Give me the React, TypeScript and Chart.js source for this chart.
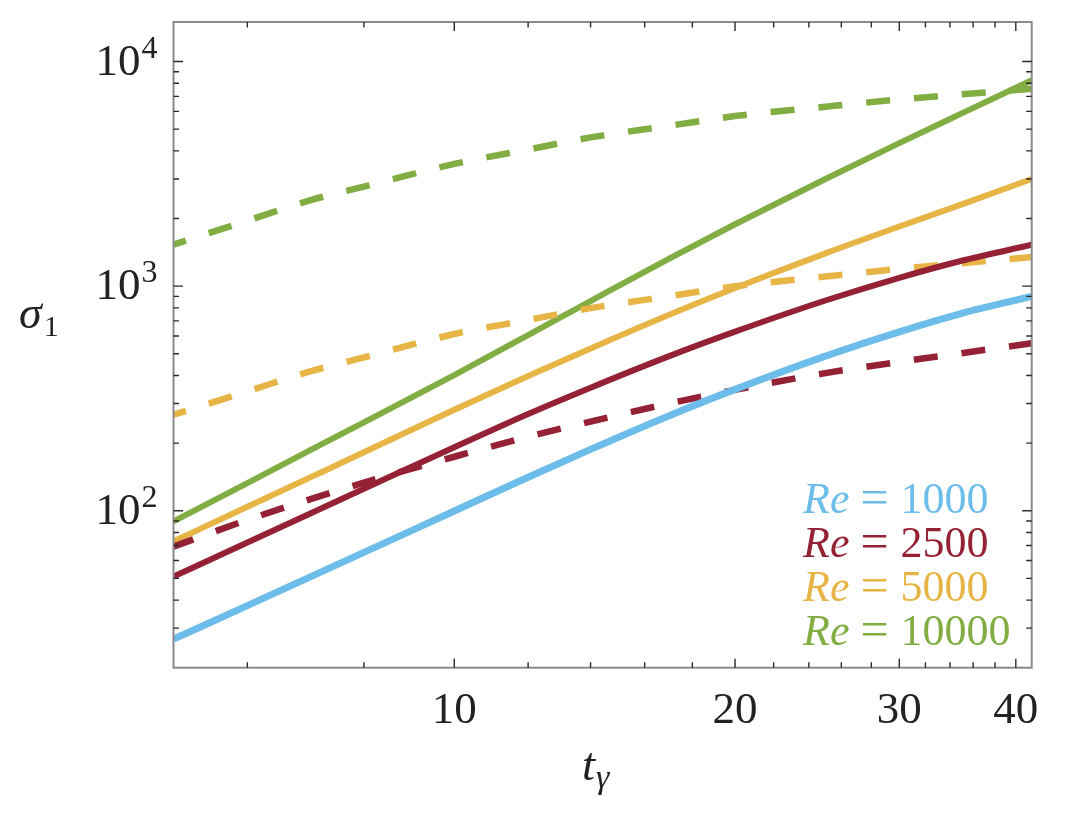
import React, { useEffect, useRef } from 'react';
import { Chart, registerables } from 'chart.js';

Chart.register(...registerables);

// ---- data ----
const tValues = [5, 6, 7, 8, 10, 12, 14, 17, 20, 25, 30, 35, 41.6];
const re1000Solid = [26.8, 37.8, 50.6, 65.2, 99.7, 140.9, 187.6, 265, 347, 488, 626, 757, 900];
const re2500Solid = [50.9, 72.2, 97.0, 125.2, 191.6, 269.5, 353, 488, 627, 863, 1089, 1297, 1528];
const re2500Dashed = [69.2, 91.0, 112.4, 133.4, 173.9, 213.5, 249.5, 300.4, 345, 410, 460, 503, 557];
const re5000Solid = [73.0, 104.1, 140.4, 182, 281.6, 398, 528, 746, 981, 1400, 1843, 2314, 3000];
const re5000Dashed = [267.6, 339.8, 416.8, 481.6, 612, 707, 798, 902, 998, 1104, 1194, 1265, 1349];
const re10000Solid = [89.6, 132.8, 185.5, 247.5, 401.7, 605.5, 858, 1326, 1886, 3001, 4334, 5877, 8255];
const re10000Dashed = [1531, 1956, 2409, 2773, 3501, 4058, 4594, 5175, 5718, 6295, 6778, 7144, 7574];

const xMajorTicks = [10, 20, 30, 40];
const xTickLabels = ['10', '20', '30', '40'];
const xMinorTicks = [6, 8, 12, 14, 16, 18, 22, 24, 26, 28, 32, 34, 36, 38];
const yMajorTicks = [100, 1000, 10000];
const yTickExponents = ['2', '3', '4'];
const yMinorTicks = [30, 40, 50, 60, 70, 80, 90, 200, 300, 400, 500, 600, 700, 800, 900,
  2000, 3000, 4000, 5000, 6000, 7000, 8000, 9000];

const legendValues = ['1000', '2500', '5000', '10000'];

const BLUE = '#6CBDEA';
const RED = '#952134';
const YELLOW = '#E7B546';
const GREEN = '#81AD43';
const legendColors = [BLUE, RED, YELLOW, GREEN];

const SERIF = '"Liberation Serif", "DejaVu Serif", serif';

const pts = (ys: number[]) => tValues.map((t, i) => ({ x: t, y: ys[i] }));

const decorPlugin = {
  id: 'decor',
  afterDatasetsDraw(chart: any) {
    const { ctx, chartArea, scales } = chart;
    const { left, right, top, bottom } = chartArea;
    const xs = scales.x;
    const ys = scales.y;
    ctx.save();
    // box
    ctx.strokeStyle = '#8a8a8a';
    ctx.lineWidth = 2;
    ctx.strokeRect(left, top, right - left, bottom - top);
    // ticks (inward, mirrored)
    ctx.strokeStyle = '#2a2a2a';
    ctx.lineWidth = 1.4;
    const xTick = (v: number, len: number) => {
      const p = xs.getPixelForValue(v);
      ctx.beginPath();
      ctx.moveTo(p, bottom);
      ctx.lineTo(p, bottom - len);
      ctx.moveTo(p, top);
      ctx.lineTo(p, top + len);
      ctx.stroke();
    };
    const yTick = (v: number, len: number) => {
      const p = ys.getPixelForValue(v);
      ctx.beginPath();
      ctx.moveTo(left, p);
      ctx.lineTo(left + len, p);
      ctx.moveTo(right, p);
      ctx.lineTo(right - len, p);
      ctx.stroke();
    };
    xMajorTicks.forEach((v) => xTick(v, 9));
    xMinorTicks.forEach((v) => xTick(v, 5.5));
    yMajorTicks.forEach((v) => yTick(v, 9.5));
    yMinorTicks.forEach((v) => yTick(v, 5.5));

    // x tick labels
    ctx.fillStyle = '#222';
    ctx.font = `45px ${SERIF}`;
    ctx.textAlign = 'center';
    ctx.textBaseline = 'alphabetic';
    xMajorTicks.forEach((v, i) => {
      ctx.fillText(xTickLabels[i], xs.getPixelForValue(v), bottom + 55);
    });

    // y tick labels 10^n
    yMajorTicks.forEach((v, i) => {
      const p = ys.getPixelForValue(v);
      ctx.font = `45px ${SERIF}`;
      const w10 = ctx.measureText('10').width;
      ctx.font = `32px ${SERIF}`;
      const wSup = ctx.measureText(yTickExponents[i]).width;
      const start = left - 16 - (w10 + 1 + wSup);
      ctx.textAlign = 'left';
      ctx.font = `45px ${SERIF}`;
      ctx.fillText('10', start, p + 13);
      ctx.font = `32px ${SERIF}`;
      ctx.fillText(yTickExponents[i], start + w10 + 1, p - 4);
    });

    // axis titles
    ctx.textAlign = 'left';
    ctx.font = `italic 46px ${SERIF}`;
    ctx.fillText('σ', 19, 328);
    const ws = ctx.measureText('σ').width;
    ctx.font = `30px ${SERIF}`;
    ctx.fillText('1', 19 + ws + 2, 336);

    ctx.font = `italic 47px ${SERIF}`;
    ctx.fillText('t', 582, 780);
    const wt = ctx.measureText('t').width;
    ctx.font = `italic 34px ${SERIF}`;
    ctx.fillText('γ', 582 + wt + 1, 788);

    // legend text
    const legendX = 803;
    const legendY0 = 513;
    const legendStep = 44;
    legendValues.forEach((val, i) => {
      const yb = legendY0 + i * legendStep;
      ctx.fillStyle = legendColors[i];
      ctx.font = `italic 44px ${SERIF}`;
      ctx.fillText('Re', legendX, yb);
      const wRe = ctx.measureText('Re').width;
      ctx.font = `50px ${SERIF}`;
      const eqX = legendX + wRe + 11;
      ctx.fillText('=', eqX, yb + 1);
      const wEq = ctx.measureText('=').width;
      ctx.font = `44px ${SERIF}`;
      ctx.fillText(val, eqX + wEq + 12, yb);
    });
    ctx.restore();
  },
};

export default function App() {
  const ref = useRef<HTMLCanvasElement | null>(null);
  useEffect(() => {
    if (!ref.current) return;
    const solid = (label: string, data: number[], color: string, width = 6) => ({
      label,
      data: pts(data),
      borderColor: color,
      backgroundColor: color,
      borderWidth: width,
      pointRadius: 0,
      borderCapStyle: 'butt',
      borderJoinStyle: 'round',
      cubicInterpolationMode: 'monotone',
      fill: false,
    });
    const dashed = (label: string, data: number[], color: string, offset: number) => ({
      ...solid(label, data, color, 6.5),
      borderDash: [24, 24],
      borderDashOffset: offset,
    });
    const chart = new Chart(ref.current, {
      type: 'line',
      data: {
        datasets: [
          solid('Re = 1000', re1000Solid, BLUE, 7),
          dashed('Re = 2500 dashed', re2500Dashed, RED, 3),
          solid('Re = 2500', re2500Solid, RED),
          dashed('Re = 5000 dashed', re5000Dashed, YELLOW, 11),
          solid('Re = 5000', re5000Solid, YELLOW),
          dashed('Re = 10000 dashed', re10000Dashed, GREEN, 11),
          solid('Re = 10000', re10000Solid, GREEN),
        ] as any,
      },
      options: {
        animation: false,
        responsive: false,
        maintainAspectRatio: false,
        layout: { padding: { left: 173.5, right: 34.3, top: 22, bottom: 148.3 } },
        scales: {
          x: { type: 'logarithmic', min: 5, max: 41.6, display: false },
          y: { type: 'logarithmic', min: 20, max: 15000, display: false },
        },
        plugins: {
          legend: { display: false },
          tooltip: { enabled: false },
        },
      } as any,
      plugins: [decorPlugin],
    });
    return () => chart.destroy();
  }, []);
  return (
    <div style={{ position: 'fixed', left: 0, top: 0, width: 1066, height: 816, background: '#fff' }}>
      <canvas ref={ref} width={1066} height={816} style={{ display: 'block' }} />
    </div>
  );
}
